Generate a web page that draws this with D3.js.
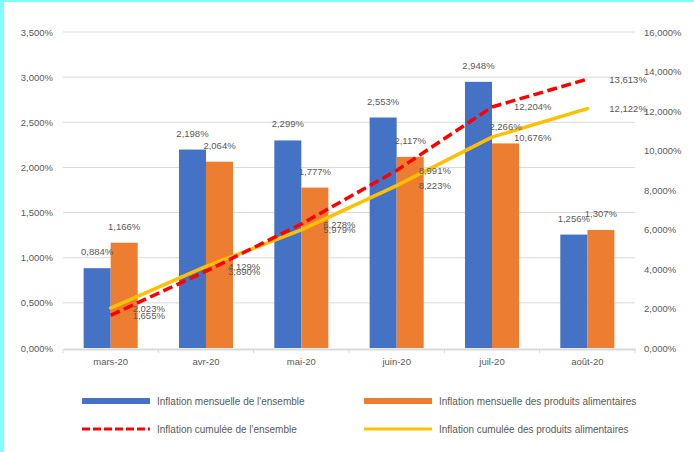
<!DOCTYPE html>
<html>
<head>
<meta charset="utf-8">
<script src="https://cdn.jsdelivr.net/npm/d3@7"></script>
<style>
  body { margin: 0; background: #fff; }
  svg text { font-family: "Liberation Sans", Arial, sans-serif; fill: #595959; }
</style>
</head>
<body>
<div id="chart"></div>
<script>
const months = ["mars-20", "avr-20", "mai-20", "juin-20", "juil-20", "août-20"];
const mensuelleEnsemble = [0.884, 2.198, 2.299, 2.553, 2.948, 1.256];
const mensuelleAlim = [1.166, 2.064, 1.777, 2.117, 2.266, 1.307];
const cumuleeEnsemble = [1.655, 3.890, 6.278, 8.991, 12.204, 13.613];
const cumuleeAlim = [2.023, 4.129, 5.979, 8.223, 10.676, 12.122];
const leftTicks = [0, 0.5, 1, 1.5, 2, 2.5, 3, 3.5];
const rightTicks = [0, 2, 4, 6, 8, 10, 12, 14, 16];

const W = 694, H = 452;
const plot = { left: 63, right: 635, top: 32, bottom: 348 };

const fmt = v => d3.format(".3f")(v).replace(".", ",") + "%";

const svg = d3.select("#chart").append("svg")
    .attr("width", W)
    .attr("height", H);

// cyan frame at left and top
svg.append("rect").attr("x", 0).attr("y", 0).attr("width", 4).attr("height", H).attr("fill", "#80ffff");
svg.append("rect").attr("x", 0).attr("y", 0).attr("width", W).attr("height", 2).attr("fill", "#80ffff");

// scales
const x = d3.scaleBand().domain(months).range([plot.left, plot.right]);
const yL = d3.scaleLinear().domain([0, 3.5]).range([plot.bottom, plot.top]);
const yR = d3.scaleLinear().domain([0, 16]).range([plot.bottom, plot.top]);

const groupW = x.bandwidth() * 0.567;
const x1 = d3.scaleBand().domain([0, 1]).range([0, groupW]);
const groupOff = (x.bandwidth() - groupW) / 2;

// gridlines
svg.append("g").selectAll("line")
    .data(leftTicks.filter(d => d > 0))
    .join("line")
    .attr("x1", plot.left).attr("x2", plot.right)
    .attr("y1", d => yL(d)).attr("y2", d => yL(d))
    .attr("stroke", "#d9d9d9").attr("stroke-width", 1);

// left axis
const leftAxis = svg.append("g")
    .attr("transform", `translate(${plot.left},0)`)
    .call(d3.axisLeft(yL).tickValues(leftTicks).tickSize(0).tickPadding(10).tickFormat(fmt));
leftAxis.select(".domain").remove();
leftAxis.selectAll("text").style("font-size", "9.5px").attr("fill", "#595959");

// right axis
const rightAxis = svg.append("g")
    .attr("transform", `translate(${plot.right},0)`)
    .call(d3.axisRight(yR).tickValues(rightTicks).tickSize(0).tickPadding(9).tickFormat(fmt));
rightAxis.select(".domain").remove();
rightAxis.selectAll("text").style("font-size", "9.5px").attr("fill", "#595959");

// bars
const series = [
    { values: mensuelleEnsemble, color: "#4472c4" },
    { values: mensuelleAlim, color: "#ed7d31" }
];

series.forEach((s, si) => {
    svg.append("g").selectAll("rect")
        .data(s.values)
        .join("rect")
        .attr("x", (d, i) => x(months[i]) + groupOff + x1(si))
        .attr("y", d => yL(d))
        .attr("width", x1.bandwidth())
        .attr("height", d => yL(0) - yL(d))
        .attr("fill", s.color);
});

// bottom axis
const bottomAxis = svg.append("g")
    .attr("transform", `translate(0,${plot.bottom + 1})`)
    .call(d3.axisBottom(x).tickSize(0).tickPadding(9));
bottomAxis.select(".domain").attr("stroke", "#d9d9d9").attr("stroke-width", 2);
bottomAxis.selectAll("text").style("font-size", "9.5px").attr("fill", "#595959");
svg.append("g").selectAll("line")
    .data(months.concat(["end"]))
    .join("line")
    .attr("x1", (d, i) => plot.left + i * x.bandwidth())
    .attr("x2", (d, i) => plot.left + i * x.bandwidth())
    .attr("y1", plot.bottom + 1).attr("y2", plot.bottom + 5)
    .attr("stroke", "#d9d9d9").attr("stroke-width", 1);

// lines
const cx = i => x(months[i]) + x.bandwidth() / 2;
const line = d3.line().x((d, i) => cx(i)).y(d => yR(d));

svg.append("path")
    .datum(cumuleeAlim)
    .attr("d", line)
    .attr("fill", "none")
    .attr("stroke", "#ffc000")
    .attr("stroke-width", 3.5)
    .attr("stroke-linejoin", "round")
    .attr("stroke-linecap", "round");

svg.append("path")
    .datum(cumuleeEnsemble)
    .attr("d", line)
    .attr("fill", "none")
    .attr("stroke", "#ff0000")
    .attr("stroke-width", 3.5)
    .attr("stroke-dasharray", "10,4.5")
    .attr("stroke-linejoin", "round");

// bar labels
series.forEach((s, si) => {
    svg.append("g").selectAll("text")
        .data(s.values)
        .join("text")
        .attr("x", (d, i) => x(months[i]) + groupOff + x1(si) + x1.bandwidth() / 2)
        .attr("y", d => yL(d) - 13)
        .attr("text-anchor", "middle")
        .style("font-size", "9.5px")
        .text(fmt);
});

// line labels
[cumuleeAlim, cumuleeEnsemble].forEach(vals => {
    svg.append("g").selectAll("text")
        .data(vals)
        .join("text")
        .attr("x", (d, i) => cx(i) + 22)
        .attr("y", d => yR(d) + 3.5)
        .style("font-size", "9.5px")
        .text(fmt);
});

// legend
const legend = [
    { label: "Inflation mensuelle de l'ensemble", color: "#4472c4", type: "bar", x: 82, y: 401 },
    { label: "Inflation mensuelle des produits alimentaires", color: "#ed7d31", type: "bar", x: 364, y: 401 },
    { label: "Inflation cumulée de l'ensemble", color: "#ff0000", type: "dash", x: 82, y: 429 },
    { label: "Inflation cumulée des produits alimentaires", color: "#ffc000", type: "line", x: 364, y: 429 }
];

const lg = svg.append("g").selectAll("g").data(legend).join("g")
    .attr("transform", d => `translate(${d.x},${d.y})`);

lg.filter(d => d.type === "bar").append("rect")
    .attr("x", 0).attr("y", -3).attr("width", 68).attr("height", 6)
    .attr("fill", d => d.color);

lg.filter(d => d.type !== "bar").append("line")
    .attr("x1", 0).attr("x2", 68).attr("y1", 0).attr("y2", 0)
    .attr("stroke", d => d.color)
    .attr("stroke-width", 3)
    .attr("stroke-dasharray", d => d.type === "dash" ? "8,3" : null);

lg.append("text")
    .attr("x", 75).attr("y", 3.5)
    .style("font-size", "10px")
    .text(d => d.label);
</script>
</body>
</html>
